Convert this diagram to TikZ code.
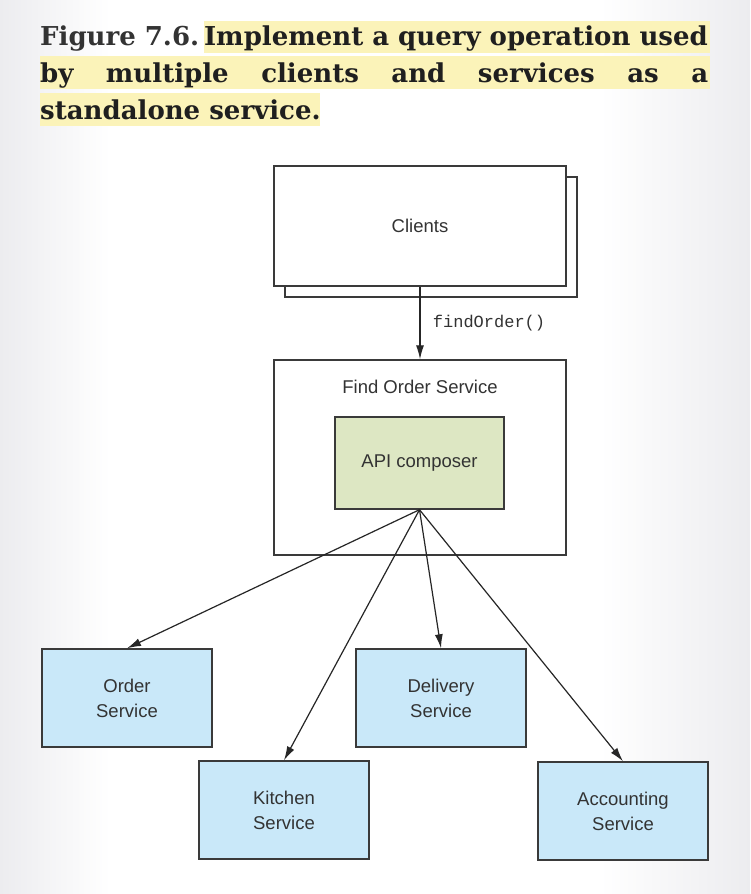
\documentclass[tikz,border=0pt]{standalone}
\usepackage{fontspec}
\newfontfamily\titlefont{DejaVu Serif}
\newfontfamily\boxfont{Liberation Sans}
\newfontfamily\codefont{Liberation Mono}
\usepackage{tikz}
\usetikzlibrary{arrows,arrows.meta,positioning,calc}
\definecolor{hilite}{HTML}{FBF3B9}
\definecolor{svcblue}{HTML}{C9E8F9}
\definecolor{apigreen}{HTML}{DDE7C3}
\definecolor{edgegray}{HTML}{3A3A3A}
\definecolor{pagegray}{HTML}{ECECEF}

\begin{document}
\begin{tikzpicture}[x=1pt,y=-1pt,
        box/.style={draw=edgegray,line width=1.4pt,inner sep=0pt,align=center,
            font=\boxfont\fontsize{18.5}{25}\selectfont,text=black!80},
        svc/.style={box,fill=svcblue,minimum width=170pt,minimum height=98pt},
        titletext/.style={inner sep=0pt,font=\titlefont\bfseries\fontsize{26}{30}\selectfont,text=black!88},
        call/.style={-{Latex[length=14pt,width=8pt]},line width=1.2pt,draw=black!85}]
        % Page background
        \useasboundingbox (0,0) rectangle (750,894);
        \fill[white] (0,0) rectangle (750,894);
        \shade[left color=pagegray,right color=white] (0,0) rectangle (110,894);
        \shade[left color=white,right color=pagegray] (600,0) rectangle (750,894);

        % Caption highlights
        \fill[hilite] (204,21) rectangle (710,53);
        \fill[hilite] (40,56) rectangle (710,89);
        \fill[hilite] (40,93) rectangle (320,126);

        % Caption text
        \node[titletext,anchor=base west,text=black!80] (figno) at (40,45) {Figure 7.6.};
        \node[titletext,anchor=base east] (cap1) at (708,45) {Implement a query operation used};
        \node[titletext,anchor=base west] (cap2) at (40,82) {\makebox[668pt][s]{by multiple clients and services as a}};
        \node[titletext,anchor=base west] (cap3) at (40,119) {standalone service.};

        % Clients (stacked boxes)
        \node[box,fill=white,minimum width=292pt,minimum height=120pt] (clientsback) at (431,237) {};
        \node[box,fill=white,minimum width=292pt,minimum height=120pt] (clients) at (420,226) {Clients};

        % Find Order Service with its API composer
        \node[box,fill=white,minimum width=292pt,minimum height=195pt] (fos) at (420,457.5) {};
        \node[box,draw=none] (fostext) at (420,387) {Find Order Service};
        \node[box,fill=apigreen,minimum width=169pt,minimum height=92pt] (api) at (419.5,463) {API composer};

        % Services
        \node[svc] (order) at (127,698) {Order\\Service};
        \node[svc] (kitchen) at (284,810) {Kitchen\\Service};
        \node[svc] (delivery) at (441,698) {Delivery\\Service};
        \node[svc] (accounting) at (623,811) {Accounting\\Service};

        % Query from the clients
        \draw[call] (clients.south) -- (fos.north)
            node[midway,right=9pt,font=\codefont\fontsize{17}{20}\selectfont,text=black!80] (findlbl) {findOrder()};

        % Composer calls to the services
        \draw[call] (api.south) -- (order.north);
        \draw[call] (api.south) -- (kitchen.north);
        \draw[call] (api.south) -- (delivery.north);
        \draw[call] (api.south) -- (accounting.north);
\end{tikzpicture}
\end{document}
